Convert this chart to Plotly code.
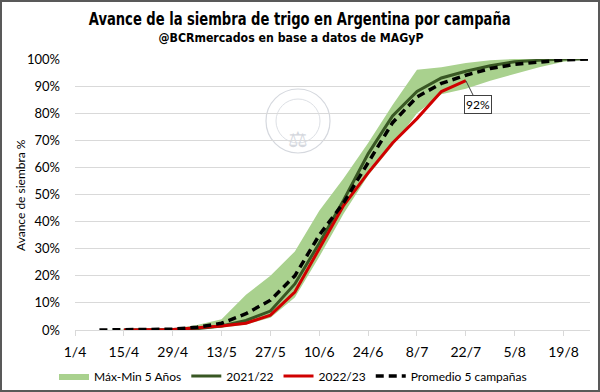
import plotly.graph_objects as go

fechas = ["2022-04-08", "2022-04-15", "2022-04-22", "2022-04-29", "2022-05-06",
          "2022-05-13", "2022-05-20", "2022-05-27", "2022-06-03", "2022-06-10",
          "2022-06-17", "2022-06-24", "2022-07-01", "2022-07-08", "2022-07-15",
          "2022-07-22", "2022-07-29", "2022-08-05", "2022-08-12", "2022-08-19",
          "2022-08-26"]

max_5 = [0, 0.2, 0.3, 0.5, 1.8, 4, 13, 20, 29, 44, 56, 69, 83, 96, 97, 98.5, 99.5, 100, 100, 100, 100]
min_5 = [0, 0, 0, 0.1, 0.3, 0.8, 2, 4.5, 12, 27, 43, 57, 68, 80, 87, 89, 92, 94.5, 97, 99, 100]
c2021 = [None, 0, 0, 0.2, 0.5, 1.5, 3.5, 7, 17, 32, 48, 65, 79, 88, 93, 95.5, 97.5, 99, 99.5, 100, 100]
c2022 = [None, 0, 0, 0.2, 0.8, 1.5, 2.5, 5.5, 14, 30, 46, 58, 69, 78, 88, 92,
         None, None, None, None, None]
promedio = [0, 0.1, 0.2, 0.3, 1, 2.5, 6, 11, 20, 35, 47, 62, 76.5, 86, 91, 94, 96.5, 98, 99, 99.7, 100]

ultimo_valor = "92%"
ultima_fecha = "2022-07-22"

pct = lambda arr: [None if v is None else v / 100 for v in arr]

W, H = 600, 392
L, R, T, B = 75, 10, 59, 62
PW, PH = W - L - R, H - T - B


def px(x):
    return (x - L) / PW


def py(y):
    return (H - B - y) / PH


tick_font = "Lato, Carlito, 'Open Sans', sans-serif"
title_font = "'DejaVu Sans Condensed', 'DejaVu Sans', sans-serif"

fig = go.Figure()

fig.add_trace(go.Scatter(x=fechas, y=pct(min_5), mode="lines", line=dict(width=0, color="#a9d18e"),
                         showlegend=False, hoverinfo="skip"))
fig.add_trace(go.Scatter(x=fechas, y=pct(max_5), mode="lines", line=dict(width=0, color="#a9d18e"),
                         fill="tonexty", fillcolor="#a9d18e", name="Máx-Min 5 Años"))
fig.add_trace(go.Scatter(x=fechas, y=pct(c2021), mode="lines", line=dict(width=3, color="#385723"),
                         name="2021/22"))
fig.add_trace(go.Scatter(x=fechas, y=pct(c2022), mode="lines", line=dict(width=3, color="#d00000"),
                         name="2022/23"))
fig.add_trace(go.Scatter(x=fechas, y=pct(promedio), mode="lines",
                         line=dict(width=3.5, color="#000000", dash="8px,5px"),
                         name="Promedio 5 campañas"))

annotations = [
    dict(text="<b>Avance de la siembra de trigo en Argentina por campaña</b>", x=px(299), y=py(18),
         xref="paper", yref="paper", showarrow=False, xanchor="center", yanchor="middle",
         font=dict(family=title_font, size=18, color="#000000")),
    dict(text="<b>@BCRmercados en base a datos de MAGyP</b>", x=px(291), y=py(38),
         xref="paper", yref="paper", showarrow=False, xanchor="center", yanchor="middle",
         font=dict(family=title_font, size=12, color="#000000")),
    dict(text="Avance de siembra %", x=px(20), y=py(195), xref="paper", yref="paper",
         showarrow=False, textangle=-90, xanchor="center", yanchor="middle",
         font=dict(family=tick_font, size=12, color="#000000")),
    dict(text=ultimo_valor, x=ultima_fecha, y=0.92, xref="x", yref="y", showarrow=True,
         arrowhead=0, arrowwidth=1, arrowcolor="#404040", ax=12, ay=24,
         bordercolor="#404040", borderwidth=1, borderpad=1, bgcolor="#ffffff",
         font=dict(family=tick_font, size=12, color="#000000")),
    dict(text="⚖", x=px(298), y=py(121), xref="paper", yref="paper", showarrow=False,
         font=dict(size=22, color="#d5d8de")),
]

shapes = [
    dict(type="circle", xref="paper", yref="paper", x0=px(266), x1=px(330), y0=py(153), y1=py(89),
         line=dict(color="#d5d8de", width=1.2), layer="below"),
    dict(type="circle", xref="paper", yref="paper", x0=px(276), x1=px(320), y0=py(143), y1=py(99),
         line=dict(color="#dde0e5", width=1), layer="below"),
    dict(type="rect", xref="paper", yref="paper", x0=px(1), x1=px(599), y0=py(391), y1=py(1),
         line=dict(color="#595959", width=2), fillcolor="rgba(0,0,0,0)"),
]

fig.update_layout(
    width=W, height=H,
    margin=dict(l=L, r=R, t=T, b=B, autoexpand=False),
    paper_bgcolor="#ffffff", plot_bgcolor="#ffffff",
    annotations=annotations, shapes=shapes,
    legend=dict(orientation="h", x=px(293), xanchor="center", y=py(376), yanchor="middle",
                font=dict(family=tick_font, size=12, color="#000000"), traceorder="normal",
                itemwidth=30, bgcolor="rgba(0,0,0,0)"),
    xaxis=dict(type="date", range=["2022-04-01", "2022-08-26 14:00"],
               tick0="2022-04-01", dtick=14 * 86400000, tickformat="%-d/%-m",
               showgrid=False, showline=True, linecolor="#d9d9d9", linewidth=1,
               ticks="outside", ticklen=5, tickcolor="#d9d9d9", ticklabelstandoff=4,
               tickfont=dict(family=tick_font, size=14, color="#000000"), zeroline=False),
    yaxis=dict(range=[0, 1], dtick=0.1, tickformat=".0%", showgrid=True, gridcolor="#d9d9d9",
               gridwidth=1, zeroline=False, showline=False, ticks="",
               ticklabelstandoff=14,
               tickfont=dict(family=tick_font, size=13, color="#000000")),
    hovermode=False,
)

post = """
document.documentElement.style.margin='0';
document.body.style.margin='0';
document.body.style.padding='0';
document.body.style.overflow='hidden';
var gd = document.getElementById('{plot_id}');
var squeeze = function(){
  var texts = gd.querySelectorAll('text.annotation-text');
  texts.forEach(function(t){
    var s = t.textContent || '';
    var k = null;
    if (s.indexOf('Avance de la siembra de trigo') === 0) { k = 0.81; }
    else if (s.indexOf('@BCRmercados') === 0) { k = 1.02; }
    if (k !== null) {
      t.style.transformBox = 'fill-box';
      t.style.transformOrigin = 'center';
      t.style.transform = 'scaleX(' + k + ')';
    }
  });
};
squeeze();
gd.on && gd.on('plotly_afterplot', squeeze);
"""

fig.write_html("out.html", post_script=post, config={"displayModeBar": False, "staticPlot": True})
